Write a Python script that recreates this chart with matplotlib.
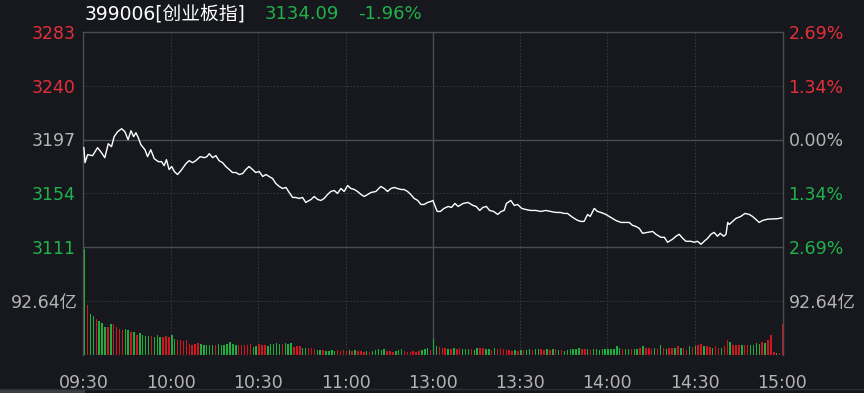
import matplotlib
matplotlib.use("Agg")
import matplotlib.pyplot as plt
import numpy as np

plt.rcParams['font.family'] = ['DejaVu Sans', 'Noto Sans CJK SC']

BG = "#16181d"
BORDER = "#4a4d52"
GRID = "#34373c"
RED = "#e5303a"
GREEN = "#22b24c"
GRAY = "#b4b4b4"
BAR_RED = "#d0161e"
BAR_GREEN = "#1eae3e"

pre_close = 3196.7
last_price = 3134.09
change_pct = "-1.96%"

# minutes after 09:30 (13:00 = 120, 15:00 = 240)
minutes = [0, 0.4, 1.3, 3.0, 4.7, 5.8, 7.2, 8.4, 9.5, 10.4, 11.6, 13.0, 14.1, 15.2, 16.2, 17.1,
           17.9, 18.7, 19.6, 21.0, 21.9, 23.0, 24.2, 25.6, 26.7, 27.6, 28.4, 29.3, 30.2, 31.1,
           32.2, 33.4, 35.1, 36.2, 37.4, 38.5, 40.0, 41.4, 42.3, 43.1, 44.3, 45.4, 46.5, 47.7,
           48.8, 50.0, 51.1, 52.3, 53.4, 54.6, 55.7, 56.8, 58.0, 59.1, 60.3, 61.5, 62.6, 63.7,
           64.9, 66.0, 67.2, 68.3, 69.5, 70.6, 71.8, 72.9, 74.0, 75.2, 76.3, 78.1, 79.2, 80.4,
           81.5, 82.6, 83.8, 84.9, 86.1, 87.2, 88.4, 89.5, 90.7, 91.8, 93.0, 94.1, 95.3, 96.4,
           97.6, 98.7, 100.4, 102.1, 103.3, 104.4, 105.6, 106.7, 107.9, 109.0, 110.1, 111.3,
           112.4, 113.6, 114.8, 115.9, 117.0, 118.2, 119.3, 120.0,
           121.5, 122.6, 123.8, 125.3, 126.4, 127.6, 128.7, 130.4, 132.1, 133.8, 134.9, 136.1,
           137.2, 138.4, 139.5, 140.9, 142.3, 143.5, 144.5, 145.3, 146.8, 148.0, 149.1, 150.6,
           151.9, 153.6, 155.4, 157.1, 158.8, 160.5, 162.2, 163.9, 165.1, 166.3, 168.1, 169.8,
           170.9, 172.0, 173.2, 174.1, 175.5, 176.6, 177.8, 179.5, 181.2, 182.9, 184.7, 186.4,
           187.5, 188.7, 189.8, 191.0, 192.1, 193.8, 195.6, 196.7, 198.4, 199.6, 200.7, 202.4,
           203.6, 204.7, 205.9, 207.0, 208.7, 209.9, 211.0, 212.2, 213.3, 214.5, 215.6, 216.7,
           217.9, 218.8, 220.0, 220.8, 221.4, 221.9, 222.7, 224.2, 225.9, 227.3, 228.8, 229.9,
           231.1, 232.2, 233.4, 235.1, 236.8, 238.5, 240.0]

price = [3190.3, 3178.3, 3184.7, 3183.9, 3190.3, 3187.1, 3182.3, 3193.5, 3191.1, 3199.1, 3203.1,
         3205.5, 3203.1, 3196.7, 3203.9, 3199.1, 3202.3, 3198.3, 3192.7, 3188.7, 3183.1, 3188.7,
         3181.5, 3179.1, 3179.1, 3175.9, 3180.7, 3172.8, 3175.2, 3171.2, 3168.8, 3172.0, 3177.5,
         3179.9, 3178.3, 3179.9, 3183.1, 3182.3, 3183.1, 3185.5, 3182.3, 3183.9, 3179.9, 3178.3,
         3175.2, 3172.8, 3170.4, 3170.4, 3168.8, 3169.6, 3172.8, 3175.2, 3172.8, 3170.4, 3171.2,
         3167.2, 3168.8, 3167.2, 3165.6, 3161.6, 3159.2, 3157.6, 3158.4, 3154.4, 3150.4, 3150.4,
         3149.6, 3150.4, 3146.4, 3148.8, 3151.2, 3148.8, 3148.0, 3149.6, 3152.8, 3155.2, 3156.0,
         3153.6, 3157.6, 3155.2, 3160.0, 3157.6, 3156.8, 3155.2, 3152.8, 3151.2, 3152.8, 3154.4,
         3155.2, 3159.2, 3157.6, 3155.2, 3157.6, 3158.4, 3157.6, 3156.8, 3156.8, 3155.2, 3152.8,
         3149.6, 3148.0, 3144.8, 3144.8, 3146.4, 3147.2, 3148.0,
         3139.2, 3139.2, 3141.6, 3143.2, 3142.4, 3145.6, 3143.2, 3145.6, 3146.4, 3144.0, 3143.2,
         3140.0, 3142.4, 3143.2, 3140.0, 3139.2, 3136.8, 3139.2, 3140.0, 3145.6, 3148.0, 3144.0,
         3144.8, 3141.6, 3140.8, 3140.0, 3140.0, 3139.2, 3140.0, 3139.2, 3138.4, 3138.4, 3137.6,
         3137.6, 3134.4, 3132.0, 3131.2, 3131.2, 3136.8, 3135.2, 3141.6, 3139.2, 3138.4, 3136.8,
         3134.4, 3132.0, 3130.4, 3130.4, 3130.4, 3128.0, 3127.2, 3125.6, 3121.7, 3122.4, 3123.2,
         3120.9, 3118.5, 3118.5, 3114.5, 3116.9, 3119.3, 3120.9, 3117.7, 3115.3, 3115.3, 3114.5,
         3115.3, 3112.9, 3115.3, 3117.7, 3120.9, 3122.4, 3119.3, 3121.7, 3119.3, 3120.9, 3130.4,
         3128.8, 3130.4, 3133.6, 3135.2, 3137.6, 3136.8, 3135.2, 3132.8, 3130.4, 3132.0, 3133.0,
         3133.2, 3133.4, 3134.09]

# volume per minute, 亿
volume_am = [182.0, 85.9, 70.2, 67.4, 61.8, 58.9, 55.6, 47.2, 47.2, 53.9,
             53.4, 47.2, 45.0, 43.3, 45.0, 43.3, 39.2, 39.2, 33.7, 37.6,
             34.9, 32.0, 32.0, 32.0, 30.8, 34.9, 30.8, 30.8, 32.0, 30.8,
             33.7, 28.1, 26.4, 25.3, 24.1, 25.3, 19.7, 18.0, 19.7, 20.7,
             19.7, 18.0, 18.0, 16.8, 16.8, 18.0, 18.5, 16.8, 18.0, 18.5,
             22.4, 19.7, 16.8, 18.0, 16.8, 16.8, 16.8, 18.5, 14.0, 15.2,
             18.5, 16.8, 16.8, 15.2, 19.7, 18.5, 20.7, 19.7, 19.7, 20.7,
             19.7, 20.7, 14.0, 15.2, 15.2, 11.3, 11.3, 11.3, 11.3, 9.6,
             8.4, 8.4, 8.4, 7.2, 7.2, 8.4, 7.2, 8.4, 7.2, 8.4,
             7.2, 8.4, 7.2, 8.4, 7.2, 7.2, 5.6, 7.2, 5.6, 7.2,
             8.4, 9.6, 8.4, 9.6, 7.2, 7.2, 5.6, 7.2, 8.4, 9.6,
             7.2, 5.6, 5.6, 7.2, 5.6, 7.2, 8.4, 9.6, 11.3, 8.4]
volume_pm = [28.1, 15.2, 14.0, 11.3, 11.3, 10.1, 10.1, 11.3, 10.1, 11.3,
             10.1, 9.6, 10.1, 10.1, 8.4, 12.3, 11.3, 11.3, 10.1, 10.1,
             8.4, 11.3, 9.6, 11.3, 10.1, 8.4, 8.4, 7.2, 8.4, 7.2,
             8.4, 8.4, 8.4, 9.6, 8.4, 9.6, 10.1, 10.1, 8.4, 9.6,
             8.4, 9.6, 9.6, 8.4, 8.4, 7.2, 8.4, 10.1, 10.1, 10.1,
             11.3, 10.1, 10.1, 10.1, 8.4, 10.1, 10.1, 8.4, 9.6, 9.6,
             9.6, 10.1, 10.1, 15.2, 11.3, 10.1, 10.1, 9.6, 10.1, 10.1,
             10.1, 11.3, 15.2, 12.3, 11.3, 10.1, 11.3, 10.1, 16.8, 11.3,
             10.1, 11.3, 11.3, 11.3, 15.2, 12.3, 11.3, 8.4, 15.2, 14.0,
             15.2, 16.8, 18.5, 15.2, 15.2, 14.0, 11.3, 15.2, 12.3, 11.3,
             15.2, 25.3, 22.4, 16.8, 16.8, 18.0, 16.8, 18.0, 18.0, 16.8,
             16.8, 20.7, 19.7, 22.4, 20.7, 26.4, 33.7, 5.6, 3.9, 3.9,
             53.4]
# r = up minute, g = down minute
direction_am = ("grggrgggrg" "rrrrggrgrg" "gggrgggrrr" "ggrrrrrrrr" "gggggrgggg" "gggrrrrrgg"
                "rrrgggggrg" "ggrrrggrrr" "ggrggggrrr" "rgrgrrrgrg" "ggggrrrggg" "rrrrrrgggr")
direction_pm = ("ggrrrgrgrr" "gggrggrrgg" "rgrrrrrrgr" "grggrggrrg" "rgrgrggggg" "grrgrggggg"
                "gggggrggrg" "grgrrrgrgr" "grrgrgrrgr" "grrgrrgrrg" "rrgrrrgrrg" "gggrgrrrgrr")

vol_max = 185.28
vol_mid = 92.64
price_ticks = [3283, 3240, 3197, 3154, 3111]
price_tick_colors = [RED, RED, GRAY, GREEN, GREEN]
pct_labels = ["2.69%", "1.34%", "0.00%", "1.34%", "2.69%"]
time_ticks = [0, 30, 60, 90, 120, 150, 180, 210, 240]
time_labels = ["09:30", "10:00", "10:30", "11:00", "13:00", "13:30", "14:00", "14:30", "15:00"]

W, H = 864, 393
FS = 12.5
fig = plt.figure(figsize=(W / 100, H / 100), dpi=100, facecolor=BG)
L, R = 83 / W, 783 / W
ax = fig.add_axes([L, 1 - 247 / H, R - L, (247 - 32) / H], facecolor=BG)
axv = fig.add_axes([L, 1 - 355 / H, R - L, (355 - 247) / H], facecolor=BG)

lo, hi = pre_close * (1 - 0.0269), pre_close * (1 + 0.0269)
for a in (ax, axv):
    a.set_xlim(-0.3, 240.4)
    for s in ("left", "right", "top"):
        a.spines[s].set_color(BORDER)
        a.spines[s].set_linewidth(1)
    a.spines["bottom"].set_visible(False)
    a.tick_params(length=0)
    for t in time_ticks[1:-1]:
        if t == 120:
            a.axvline(t, color=BORDER, lw=1, zorder=1)
        else:
            a.axvline(t, color=GRID, lw=0.8, ls=(0, (1.5, 1.5)), zorder=1)

ax.set_ylim(lo, hi)
ax.axhline(pre_close, color=BORDER, lw=1, zorder=1)
ax.axhline(price_ticks[1], color=GRID, lw=0.8, ls=(0, (1.5, 1.5)), zorder=1)
ax.axhline(price_ticks[3], color=GRID, lw=0.8, ls=(0, (1.5, 1.5)), zorder=1)
ax.plot(minutes, price, color="white", lw=1.0, zorder=3)
ax.set_xticks([])
ax.set_yticks(price_ticks)
ax.set_yticklabels([str(t) for t in price_ticks], fontsize=FS)
for lab, c in zip(ax.get_yticklabels(), price_tick_colors):
    lab.set_color(c)
ax.tick_params(axis="y", pad=5)

axr = ax.twinx()
axr.set_ylim(lo, hi)
axr.set_yticks(price_ticks)
axr.set_yticklabels(pct_labels, fontsize=FS)
for lab, c in zip(axr.get_yticklabels(), price_tick_colors):
    lab.set_color(c)
axr.tick_params(length=0, pad=4)
for s in axr.spines.values():
    s.set_visible(False)

volume = volume_am + volume_pm
direction = direction_am + direction_pm
vx = np.arange(len(volume))
colors = [BAR_RED if d == "r" else BAR_GREEN for d in direction]
axv.bar(vx, volume, width=0.5, align="edge", color=colors, lw=0, zorder=4)
axv.set_ylim(0, vol_max)
axv.axhline(vol_mid, color=GRID, lw=0.8, ls=(0, (1.5, 1.5)), zorder=1)
axv.set_yticks([vol_mid])
axv.set_yticklabels(["92.64亿"], fontsize=FS, color=GRAY)
axv.tick_params(axis="y", pad=4)
axv.set_xticks(time_ticks)
axv.set_xticklabels(time_labels, fontsize=FS, color=GRAY)
axv.tick_params(axis="x", pad=14)

axvr = axv.twinx()
axvr.set_ylim(0, vol_max)
axvr.set_yticks([vol_mid])
axvr.set_yticklabels(["92.64亿"], fontsize=FS, color=GRAY)
axvr.tick_params(length=0, pad=4)
for s in axvr.spines.values():
    s.set_visible(False)

fig.text(85 / W, 1 - 14 / H, "399006[创业板指]", color="white", fontsize=13.5, va="center", ha="left")
fig.text(265 / W, 1 - 14 / H, f"{last_price:.2f}", color=GREEN, fontsize=13, va="center", ha="left")
fig.text(358 / W, 1 - 14 / H, change_pct, color=GREEN, fontsize=13, va="center", ha="left")

fig.add_artist(plt.Line2D([0, 1], [1 - 389 / H, 1 - 389 / H], color="#2a2d32", lw=1))
fig.add_artist(plt.Rectangle((0, 0), 85 / W, 4 / H, color="#3c3f44", lw=0))

fig.savefig("out.png", dpi=100, facecolor=BG)
